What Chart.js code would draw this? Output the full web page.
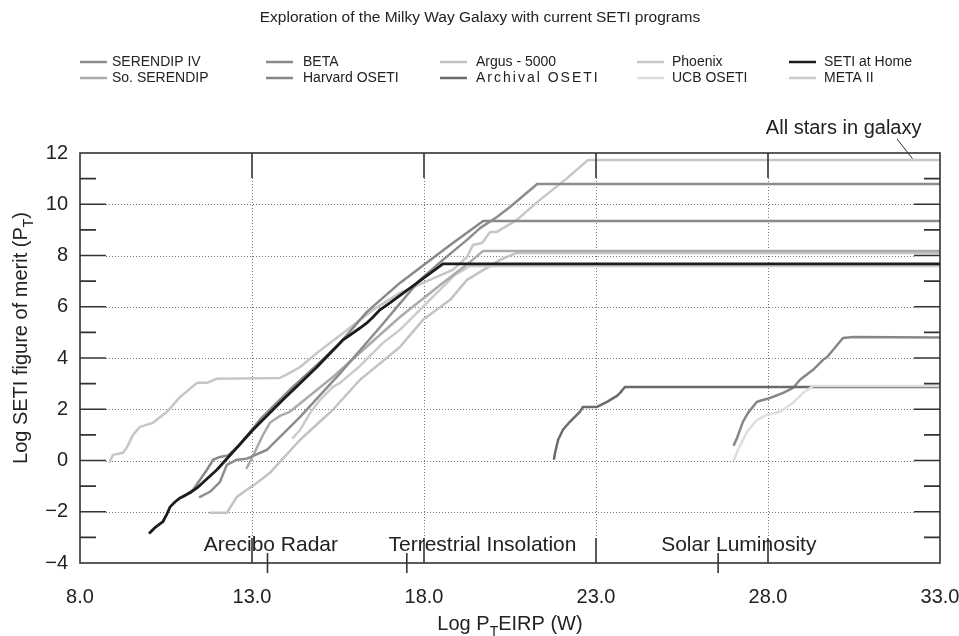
<!DOCTYPE html>
<html>
<head>
<meta charset="utf-8">
<script src="https://cdn.jsdelivr.net/npm/chart.js@4.4.1/dist/chart.umd.min.js"></script>
<style>
    html, body { margin: 0; padding: 0; background: #fff; }
</style>
</head>
<body>
<canvas id="chartContainer" width="959" height="636"></canvas>
<script>
// axis ticks
const xTickValues = [8, 13, 18, 23, 28, 33];
const yTickValues = [-4, -2, 0, 2, 4, 6, 8, 10, 12];
const yMinorTicks = [-3, -1, 1, 3, 5, 7, 9, 11];

// labelled EIRP levels along the bottom of the plot
const bandLabels = ['Arecibo Radar', 'Terrestrial Insolation', 'Solar Luminosity'];
const bandMarkers = [13.45, 17.5, 26.55];
const bandTextX = [13.55, 19.7, 27.15];

// series names (legend reads down each column)
const seriesNames = ['SERENDIP IV', 'So. SERENDIP', 'BETA', 'Harvard OSETI', 'Argus - 5000',
    'Archival OSETI', 'Phoenix', 'UCB OSETI', 'SETI at Home', 'META II'];

// [log EIRP, log figure of merit]
const serendipIV = [[11.49,-1.42],[11.78,-1.22],[12.07,-0.83],[12.27,-0.17],[12.56,0.03],[12.85,0.07],
    [13.44,0.42],[14.4,1.7],[15.56,3.4],[16.72,5.2],[17.88,7.05],[18.55,7.83],[19.25,8.61],[19.63,9.07],
    [20.12,9.5],[20.5,9.89],[21.29,10.79],[33,10.79]];
const soSerendip = [[12.85,-0.29],[13.0,0.1],[13.15,0.53],[13.32,1.0],[13.52,1.47],[13.81,1.74],[14.1,1.9],
    [15.35,3.26],[17.3,5.6],[18.47,6.85],[19.34,7.75],[19.72,8.18],[33,8.18]];
const beta = [[10.99,-1.42],[11.29,-1.14],[11.49,-0.75],[11.69,-0.36],[11.87,0.03],[12.07,0.14],[12.3,0.2],
    [12.6,0.55],[13.23,1.59],[14.1,2.76],[14.89,3.73],[15.56,4.59],[16.34,5.8],[17.3,6.93],[18.76,8.41],
    [19.72,9.35],[33,9.35]];
const harvardOseti = [[27.01,0.61],[27.1,0.88],[27.27,1.51],[27.42,1.86],[27.68,2.29],[28.06,2.44],[28.44,2.64],
    [28.73,2.83],[28.93,3.15],[29.31,3.54],[29.6,3.93],[29.72,4.04],[30.01,4.51],[30.18,4.78],[30.47,4.82],[33,4.8]];
const argus5000 = [[11.78,-2.04],[12.27,-2.04],[12.56,-1.42],[12.85,-1.14],[13.15,-0.87],[13.52,-0.48],[14.4,0.81],
    [15.35,1.98],[16.14,3.15],[17.3,4.43],[17.97,5.49],[18.76,6.27],[19.25,7.05],[20.21,7.83],[20.7,8.1],[33,8.1]];
const archivalOseti = [[21.78,0.07],[21.81,0.3],[21.9,0.81],[22.04,1.2],[22.24,1.51],[22.53,1.9],[22.62,2.09],
    [23.03,2.09],[23.32,2.29],[23.61,2.52],[23.7,2.64],[23.84,2.87],[33,2.87]];
const phoenix = [[8.87,-0.05],[8.96,0.22],[9.25,0.3],[9.37,0.53],[9.54,1.0],[9.74,1.31],[10.12,1.47],[10.53,1.9],
    [10.91,2.48],[11.4,3.03],[11.69,3.03],[11.98,3.19],[13.81,3.22],[14.1,3.42],[14.4,3.65],[14.89,4.2],[15.65,4.98],
    [16.52,5.88],[17.3,6.54],[18.17,7.05],[18.84,7.44],[19.25,7.94],[19.42,8.41],[19.69,8.49],[19.92,8.92],
    [20.12,8.92],[20.7,9.39],[21.37,10.17],[22.16,11.02],[22.77,11.73],[33,11.73]];
const ucbOseti = [[27.01,0.03],[27.13,0.42],[27.39,1.12],[27.68,1.59],[27.97,1.78],[28.35,1.9],[28.73,2.25],
    [29.02,2.64],[29.31,2.91],[33,2.91]];
const setiAtHome = [[10.03,-2.82],[10.17,-2.63],[10.41,-2.39],[10.53,-2.08],[10.62,-1.81],[10.76,-1.62],[10.91,-1.46],
    [11.2,-1.26],[11.4,-1.07],[11.98,-0.36],[13.03,1.2],[13.9,2.37],[14.89,3.65],[15.65,4.71],[16.14,5.17],
    [16.34,5.37],[16.52,5.6],[16.72,5.88],[17.01,6.15],[17.8,6.93],[18.55,7.67],[33,7.67]];
const metaII = [[14.19,0.88],[14.4,1.2],[14.69,1.86],[14.98,2.37],[15.35,2.87],[15.56,3.03],[16.14,3.69],
    [16.81,4.59],[17.3,5.1],[18.17,6.27],[18.9,7.24],[19.34,7.59],[33,7.59]];

const seriesData = [serendipIV, soSerendip, beta, harvardOseti, argus5000,
    archivalOseti, phoenix, ucbOseti, setiAtHome, metaII];

// styles
const FONT = '"Liberation Sans", Arial, Helvetica, sans-serif';
const seriesColors = ['#8d8d8d', '#ababab', '#898989', '#878787', '#c3c3c3',
    '#6b6b6b', '#c6c6c6', '#dedede', '#1c1c1c', '#cbcbcb'];
const drawOrder = [4, 6, 5, 3, 9, 2, 7, 1, 0, 8];   // lower = drawn on top
const legendLineX = [80, 266, 440, 637, 789];
const legendTextX = [112, 303, 476, 672, 824];
const legendRows = [62, 78];

function richText(ctx, parts, x, y, size) {
    let w = 0;
    parts.forEach(([t, sub]) => {
        ctx.font = (sub ? size * 0.7 : size) + 'px ' + FONT;
        w += ctx.measureText(t).width;
    });
    let cx = x - w / 2;
    ctx.textAlign = 'left';
    ctx.textBaseline = 'alphabetic';
    parts.forEach(([t, sub]) => {
        ctx.font = (sub ? size * 0.7 : size) + 'px ' + FONT;
        ctx.fillText(t, cx, sub ? y + size * 0.3 : y);
        cx += ctx.measureText(t).width;
    });
}

// grid, frame, ticks and all the surrounding text
const decorations = {
    id: 'decorations',
    beforeDatasetsDraw(chart) {
        const { ctx, chartArea: a, scales: { x, y } } = chart;
        ctx.save();
        ctx.strokeStyle = '#777';
        ctx.lineWidth = 1;
        ctx.setLineDash([1, 2]);
        ctx.beginPath();
        yTickValues.slice(1, -1).forEach(v => {
            const py = Math.round(y.getPixelForValue(v)) + 0.5;
            ctx.moveTo(a.left + 26, py);
            ctx.lineTo(a.right - 26, py);
        });
        xTickValues.slice(1, -1).forEach(v => {
            const px = Math.round(x.getPixelForValue(v)) + 0.5;
            ctx.moveTo(px, a.top + 25);
            ctx.lineTo(px, a.bottom - 25);
        });
        ctx.stroke();
        ctx.restore();
    },
    afterDraw(chart) {
        const { ctx, chartArea: a, scales: { x, y } } = chart;
        ctx.save();

        // frame and tick marks
        ctx.strokeStyle = '#333';
        ctx.lineWidth = 1.6;
        ctx.strokeRect(a.left, a.top, a.right - a.left, a.bottom - a.top);
        ctx.beginPath();
        yTickValues.slice(1, -1).forEach(v => {
            const py = y.getPixelForValue(v);
            ctx.moveTo(a.left, py); ctx.lineTo(a.left + 26, py);
            ctx.moveTo(a.right, py); ctx.lineTo(a.right - 26, py);
        });
        yMinorTicks.forEach(v => {
            const py = y.getPixelForValue(v);
            ctx.moveTo(a.left, py); ctx.lineTo(a.left + 16, py);
            ctx.moveTo(a.right, py); ctx.lineTo(a.right - 16, py);
        });
        xTickValues.slice(1, -1).forEach(v => {
            const px = x.getPixelForValue(v);
            ctx.moveTo(px, a.top); ctx.lineTo(px, a.top + 25);
            ctx.moveTo(px, a.bottom); ctx.lineTo(px, a.bottom - 25);
        });
        bandMarkers.forEach(v => {
            const px = x.getPixelForValue(v);
            ctx.moveTo(px, a.bottom - 10); ctx.lineTo(px, a.bottom + 10);
        });
        ctx.stroke();

        ctx.fillStyle = '#222';
        ctx.font = '21px ' + FONT;
        ctx.textAlign = 'center';
        ctx.textBaseline = 'alphabetic';
        bandLabels.forEach((t, i) => {
            ctx.fillText(t, x.getPixelForValue(bandTextX[i]), y.getPixelForValue(-3.5) + 1);
        });

        // "All stars in galaxy" note with its leader line
        ctx.font = '20px ' + FONT;
        ctx.fillText('All stars in galaxy', x.getPixelForValue(30.2), y.getPixelForValue(12.75));
        ctx.lineWidth = 1;
        ctx.beginPath();
        ctx.moveTo(x.getPixelForValue(31.75), y.getPixelForValue(12.55));
        ctx.lineTo(x.getPixelForValue(32.2), y.getPixelForValue(11.78));
        ctx.stroke();

        // title
        ctx.font = '15.5px ' + FONT;
        ctx.textBaseline = 'middle';
        ctx.fillText('Exploration of the Milky Way Galaxy with current SETI programs', 480, 18);

        // legend
        ctx.font = '14px ' + FONT;
        ctx.textAlign = 'left';
        chart.data.datasets.forEach((ds, i) => {
            const col = Math.floor(i / 2);
            const ly = legendRows[i % 2];
            ctx.strokeStyle = ds.borderColor;
            ctx.lineWidth = 2.5;
            ctx.beginPath();
            ctx.moveTo(legendLineX[col], ly); ctx.lineTo(legendLineX[col] + 27, ly);
            ctx.stroke();
            ctx.letterSpacing = ds.label === 'Archival OSETI' ? '2px' : '0px';
            ctx.fillText(ds.label, legendTextX[col], ly);
        });
        ctx.letterSpacing = '0px';

        // axis titles
        ctx.fillStyle = '#222';
        richText(ctx, [['Log P'], ['T', true], ['EIRP (W)']], (a.left + a.right) / 2, 630, 20);
        ctx.translate(27, 338);
        ctx.rotate(-Math.PI / 2);
        richText(ctx, [['Log SETI figure of merit (P'], ['T', true], [')']], 0, 0, 20);
        ctx.restore();
    }
};

const datasets = seriesNames.map((name, i) => ({
    label: name,
    data: seriesData[i].map(p => ({ x: p[0], y: p[1] })),
    borderColor: seriesColors[i],
    borderWidth: name === 'SETI at Home' ? 2.8 : 2.5,
    pointRadius: 0,
    fill: false,
    tension: 0,
    order: drawOrder[i]
}));

new Chart(document.getElementById('chartContainer').getContext('2d'), {
    type: 'line',
    data: { datasets: datasets },
    options: {
        responsive: false,
        animation: false,
        layout: { padding: { top: 153, right: 19, left: 0, bottom: 0 } },
        elements: { line: { borderCapStyle: 'round', borderJoinStyle: 'round' } },
        plugins: {
            legend: { display: false },
            title: { display: false },
            tooltip: { enabled: false }
        },
        scales: {
            x: {
                type: 'linear',
                min: 8,
                max: 33,
                grid: { display: false, drawTicks: false, tickLength: 0 },
                border: { display: false },
                afterBuildTicks: s => { s.ticks = xTickValues.map(v => ({ value: v })); },
                afterFit: s => { s.height = 73; s.paddingLeft = 0; s.paddingRight = 0; },
                ticks: {
                    callback: v => v.toFixed(1),
                    font: { size: 20, family: FONT },
                    color: '#222',
                    padding: 22,
                    maxRotation: 0,
                    autoSkip: false
                }
            },
            y: {
                type: 'linear',
                min: -4,
                max: 12,
                grid: { display: false, drawTicks: false, tickLength: 0 },
                border: { display: false },
                afterBuildTicks: s => { s.ticks = yTickValues.map(v => ({ value: v })); },
                afterFit: s => { s.width = 80; s.paddingTop = 0; s.paddingBottom = 0; },
                ticks: {
                    callback: v => String(v).replace('-', '\u2212'),
                    font: { size: 20, family: FONT },
                    color: '#222',
                    padding: 12,
                    autoSkip: false
                }
            }
        }
    },
    plugins: [decorations]
});
</script>
</body>
</html>
